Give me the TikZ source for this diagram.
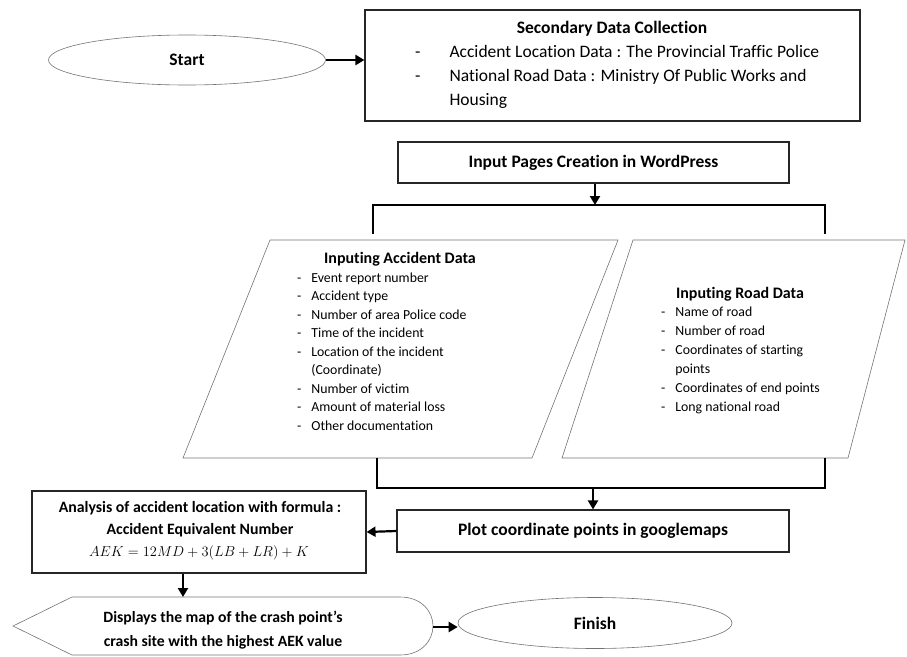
\documentclass[tikz,border=0pt]{standalone}
\usepackage{fontspec}
\setmainfont[Ligatures={NoCommon}]{Carlito}
\usetikzlibrary{shapes.geometric,arrows.meta}
\begin{document}
\begin{tikzpicture}[x=1pt,y=-1pt,
  conn/.style={line width=2.2pt,-{Triangle[length=9pt,width=10pt]}},
  barline/.style={line width=2.2pt},
  box/.style={draw=black!85,line width=1.1pt,rectangle,inner sep=0pt},
  oval/.style={draw=black!55,line width=0.6pt,ellipse,inner sep=0pt},
  para/.style={draw=black!55,line width=0.6pt},
  bt/.style={font=\bfseries\fontsize{17.5}{20}\selectfont,inner sep=0pt},
  pt/.style={font=\bfseries\fontsize{16}{19}\selectfont,inner sep=0pt},
  lt/.style={inner sep=0pt,anchor=north west}]
\useasboundingbox (0,0) rectangle (907,656);

% Start
\node[oval,minimum width=277pt,minimum height=50pt,bt] (start) at (187,60) {Start};

% Secondary data collection
\node[box,minimum width=495pt,minimum height=111pt] (sec) at (612.5,65.5) {};
\node[bt] (sectitle) at (612,29) {Secondary Data Collection};
\node[lt] (seclist) at (415,40) {\fontsize{17.5}{24}\selectfont
  \begin{tabular}{@{}l@{\hspace{29pt}}l@{}}
  - & Accident Location Data : The Provincial Traffic Police\\
  - & National Road Data : Ministry Of Public Works and\\
    & Housing
  \end{tabular}};

% Input pages
\node[box,minimum width=391pt,minimum height=41pt,bt] (inp) at (593.5,162.5) {Input Pages Creation in WordPress};

% split bar
\coordinate (bmid) at (595,205);
\coordinate (bl) at (373,205);
\coordinate (br) at (825,205);
\coordinate (blend) at (373,234);
\coordinate (brend) at (825,234);
\draw[conn] (inp.south -| bmid) -- (bmid);
\draw[barline,line join=miter] (blend) -- (bl) -- (br) -- (brend);

% Left parallelogram
\draw[para] (270,240) -- (618,240) -- (532,458) -- (183,458) -- cycle;
\node[pt] (acctitle) at (400,259) {Inputing Accident Data};
\node[lt] (acclist) at (297,269) {\fontsize{13.8}{18.5}\selectfont
  \begin{tabular}{@{}l@{\hspace{10pt}}l@{}}
  - & Event report number\\
  - & Accident type\\
  - & Number of area Police code\\
  - & Time of the incident\\
  - & Location of the incident\\
    & (Coordinate)\\
  - & Number of victim\\
  - & Amount of material loss\\
  - & Other documentation
  \end{tabular}};

% Right parallelogram
\draw[para] (633,240) -- (905,240) -- (848,458) -- (562,458) -- cycle;
\node[pt] (roadtitle) at (740,294) {Inputing Road Data};
\node[lt] (roadlist) at (661,303) {\fontsize{13.8}{19}\selectfont
  \begin{tabular}{@{}l@{\hspace{10pt}}l@{}}
  - & Name of road\\
  - & Number of road\\
  - & Coordinates of starting\\
    & points\\
  - & Coordinates of end points\\
  - & Long national road
  \end{tabular}};

% join bar
\coordinate (jl) at (377,458);
\coordinate (jr) at (825,458);
\coordinate (jlb) at (377,488);
\coordinate (jrb) at (825,488);
\coordinate (jmid) at (593,488);
\draw[barline,line join=miter] (jl) -- (jlb) -- (jrb) -- (jr);

% Plot
\node[box,minimum width=392pt,minimum height=42pt,bt] (plot) at (593,531) {Plot coordinate points in googlemaps};
\draw[conn] (jmid) -- (jmid |- plot.north);

% Analysis
\node[box,minimum width=334pt,minimum height=82pt] (ana) at (199,532) {};
\node[inner sep=0pt,align=center,font=\bfseries\fontsize{15.8}{22}\selectfont] (anatext) at (200,519)
  {Analysis of accident location with formula :\\Accident Equivalent Number};
\node[inner sep=0pt,font=\fontsize{14.5}{18}\selectfont] (formula) at (199,553) {$AEK = 12MD + 3(LB + LR) + K$};
\draw[conn] (plot.west) -- (ana.east);

% Display
\draw[para] (13,626) -- (72,597) -- (400,597) .. controls (422,597) and (433,612) .. (433,626)
  .. controls (433,640) and (422,655) .. (400,655) -- (72,655) -- cycle;
\coordinate (dtop) at (183,597);
\coordinate (dright) at (433,627);
\node[inner sep=0pt,align=center,font=\bfseries\fontsize{15.7}{24}\selectfont] (disp) at (223,630)
  {Displays the map of the crash point's\\crash site with the highest AEK value};
\draw[conn] (ana.south -| dtop) -- (dtop);

% Finish
\node[oval,minimum width=274pt,minimum height=51pt,bt] (finish) at (595,623) {Finish};
\draw[conn] (dright) -- (finish.west |- dright);

% Start arrow
\draw[conn] (start.east) -- (start.east -| sec.west);
\end{tikzpicture}
\end{document}
